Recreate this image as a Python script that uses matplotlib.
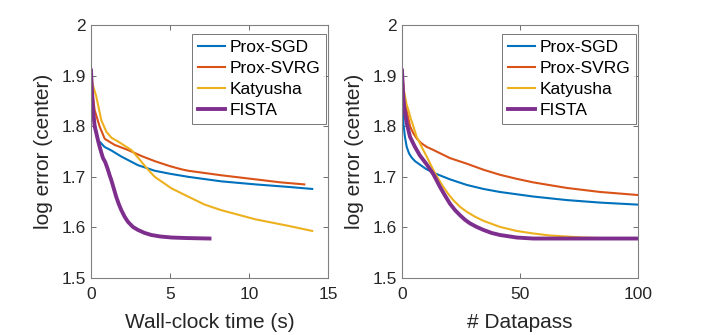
import matplotlib
matplotlib.use("Agg")
import matplotlib.pyplot as plt

plt.rcParams['font.family'] = ['Liberation Sans', 'DejaVu Sans']

# Left panel: wall-clock time (s)
sgd_t = [0, 0.1, 0.23, 0.44, 0.86, 1.29, 1.92, 2.97, 4.03, 5, 6.14, 8.25, 10.4, 12.5, 14]
sgd_tv = [1.91, 1.85, 1.806, 1.773, 1.759, 1.752, 1.74, 1.723, 1.712, 1.706, 1.70, 1.691, 1.685, 1.68, 1.676]
svrg_t = [0, 0.1, 0.23, 0.55, 0.87, 1.5, 2.34, 3.2, 4.03, 5, 5.7, 6.14, 8.25, 10.4, 12, 13.5]
svrg_tv = [1.91, 1.865, 1.832, 1.799, 1.775, 1.763, 1.753, 1.741, 1.731, 1.721, 1.715, 1.712, 1.703, 1.695, 1.689, 1.685]
katy_t = [0, 0.13, 0.34, 0.65, 0.97, 1.3, 1.7, 2.55, 3.0, 3.5, 4.03, 5.1, 6.14, 7.2, 8.25, 10.4, 12.5, 14]
katy_tv = [1.90, 1.88, 1.858, 1.812, 1.789, 1.777, 1.77, 1.753, 1.737, 1.718, 1.70, 1.677, 1.661, 1.645, 1.634, 1.616, 1.603, 1.593]
fista_t = [0, 0.06, 0.13, 0.23, 0.34, 0.45, 0.55, 0.65, 0.76, 0.9, 1.05, 1.18, 1.29, 1.45, 1.6, 1.76, 1.92, 2.13, 2.34, 2.65, 2.97, 3.4, 3.82, 4.4, 5.1, 6, 7.5]
fista_tv = [1.91, 1.87, 1.832, 1.80, 1.786, 1.771, 1.759, 1.748, 1.737, 1.729, 1.716, 1.703, 1.693, 1.676, 1.66, 1.646, 1.634, 1.621, 1.611, 1.601, 1.595, 1.589, 1.585, 1.582, 1.580, 1.579, 1.578]

# Right panel: datapasses
sgd_d = [0, 0.3, 0.6, 1.2, 2, 3, 4.1, 5.5, 7.6, 10, 13.3, 20.3, 27.4, 34.5, 41.5, 55.6, 69.8, 84, 100]
sgd_dv = [1.91, 1.85, 1.806, 1.78, 1.759, 1.746, 1.738, 1.731, 1.724, 1.716, 1.708, 1.695, 1.684, 1.676, 1.670, 1.661, 1.654, 1.649, 1.645]
svrg_d = [0, 1, 2, 3.4, 4.8, 6.2, 8, 10.5, 13.3, 20.3, 27.4, 34.5, 41.5, 48.6, 55.6, 69.8, 84, 100]
svrg_dv = [1.91, 1.86, 1.83, 1.80, 1.786, 1.776, 1.767, 1.759, 1.753, 1.737, 1.726, 1.714, 1.704, 1.696, 1.689, 1.678, 1.670, 1.664]
katy_d = [0, 1, 2, 2.7, 3.7, 4.8, 6.2, 7.6, 9, 11, 13.3, 15.4, 17.5, 19.6, 21.7, 24.5, 27.4, 31, 34.5, 41.5, 48.6, 55.6, 62.7, 69.8, 76.8, 84, 100]
katy_dv = [1.90, 1.865, 1.842, 1.832, 1.815, 1.80, 1.779, 1.766, 1.753, 1.735, 1.713, 1.696, 1.68, 1.666, 1.654, 1.641, 1.631, 1.621, 1.613, 1.601, 1.593, 1.588, 1.584, 1.582, 1.580, 1.579, 1.578]
fista_d = [0, 0.5, 1, 2, 3.4, 5.5, 7.6, 10.4, 13.3, 16.1, 18.2, 20.3, 22.5, 24.6, 26.7, 28.8, 31.6, 34.5, 38, 41.5, 48.6, 55.6, 65, 80, 100]
fista_dv = [1.91, 1.86, 1.835, 1.806, 1.779, 1.759, 1.742, 1.725, 1.705, 1.680, 1.663, 1.647, 1.634, 1.624, 1.615, 1.608, 1.601, 1.595, 1.589, 1.585, 1.580, 1.578, 1.578, 1.578, 1.578]

labels = ['Prox-SGD', 'Prox-SVRG', 'Katyusha', 'FISTA']
colors = ['#0072BD', '#D95319', '#EDB120', '#7E2F8E']
widths = [1.5, 1.5, 1.5, 2.8]

fig = plt.figure(figsize=(7.06, 3.35), dpi=100)
ax1 = fig.add_axes([91/706, 1 - 278/335, 237/706, 253/335])
ax2 = fig.add_axes([402/706, 1 - 278/335, 236/706, 253/335])

left = [(sgd_t, sgd_tv), (svrg_t, svrg_tv), (katy_t, katy_tv), (fista_t, fista_tv)]
right = [(sgd_d, sgd_dv), (svrg_d, svrg_dv), (katy_d, katy_dv), (fista_d, fista_dv)]

for ax, series, xlim, xticks, xlabel in [
        (ax1, left, (0, 15), [0, 5, 10, 15], 'Wall-clock time (s)'),
        (ax2, right, (0, 100), [0, 50, 100], '# Datapass')]:
    for (x, y), lab, c, w in zip(series, labels, colors, widths):
        ax.plot(x, y, color=c, lw=w, label=lab)
    ax.set_xlim(*xlim)
    ax.set_ylim(1.5, 2.0)
    ax.set_xticks(xticks)
    ax.set_yticks([1.5, 1.6, 1.7, 1.8, 1.9, 2.0])
    ax.set_yticklabels(['1.5', '1.6', '1.7', '1.8', '1.9', '2'])
    ax.tick_params(direction='in', length=3.5, width=0.6, color='#555555',
                   labelcolor='#262626', labelsize=12.5, top=True, right=True)
    ax.tick_params(axis='x', pad=6.5)
    ax.tick_params(axis='y', pad=3.5)
    for sp in ax.spines.values():
        sp.set_color('#808080')
        sp.set_linewidth(0.8)
    ax.set_xlabel(xlabel, fontsize=15, color='#262626', labelpad=8)
    ax.set_ylabel('log error (center)', fontsize=15, color='#262626', labelpad=6)
    w_ax = 237 if ax is ax1 else 236
    x0 = 91 if ax is ax1 else 402
    ax_right = x0 + w_ax
    anchor = ((ax_right - 2 - x0) / w_ax, (278 - 34) / 253)
    leg = ax.legend(loc='upper right', bbox_to_anchor=anchor, borderaxespad=0,
                    fontsize=12.5, frameon=True, fancybox=False,
                    handlelength=1.55, handletextpad=0.25,
                    labelspacing=0.34, borderpad=0.35)
    leg.get_frame().set_edgecolor('#555555')
    leg.get_frame().set_linewidth(0.7)

fig.savefig('out.png', dpi=100)
